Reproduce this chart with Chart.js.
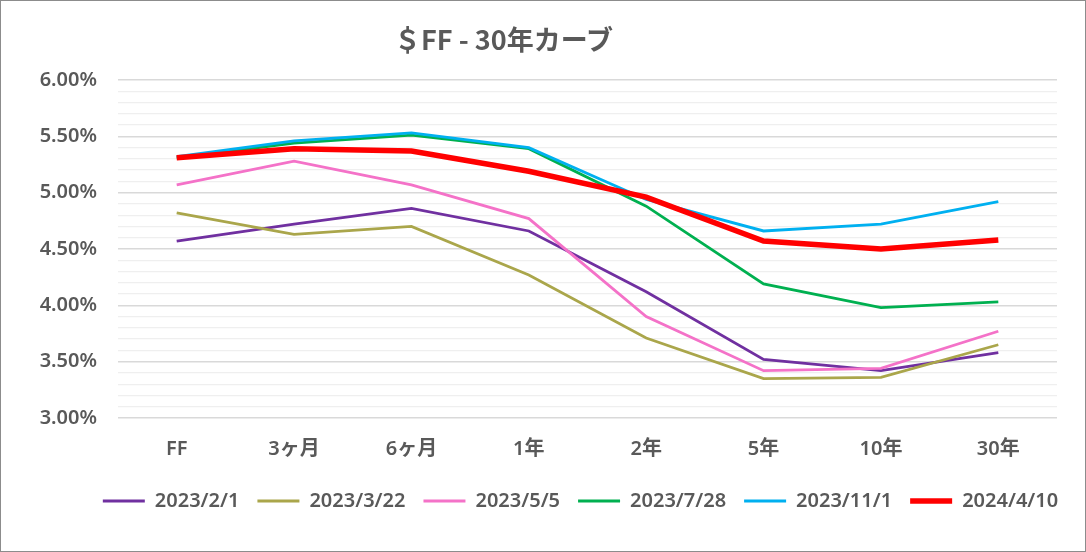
<!DOCTYPE html>
<html>
<head>
<meta charset="utf-8">
<script src="https://cdn.jsdelivr.net/npm/chart.js@4"></script>
<style>
  html, body { margin: 0; padding: 0; background: #fff; }
  #wrap { position: relative; width: 1086px; height: 552px; }
  #frame { position: absolute; left: 0; top: 0; width: 1086px; height: 552px; box-sizing: border-box; border: 1px solid #8c8c8c; pointer-events: none; }
  #title { position: absolute; left: 0; top: 23px; width: 1007px; text-align: center; font-family: 'Noto Sans CJK JP', 'Noto Sans', sans-serif; font-size: 27px; font-weight: 600; line-height: 32px; color: #595959; }
  canvas { position: absolute; left: 0; top: 0; }
</style>
</head>
<body>
<div id="wrap">
  <canvas id="chart" width="1086" height="552"></canvas>
  <div id="title">＄FF - 30年カーブ</div>
  <div id="frame"></div>
</div>
<script>
// tenors on the x axis
const tenors = ['FF', '3ヶ月', '6ヶ月', '1年', '2年', '5年', '10年', '30年'];

// curve dates (legend)
const curveDates = ['2023/2/1', '2023/3/22', '2023/5/5', '2023/7/28', '2023/11/1', '2024/4/10'];

// yields in %
const y20230201 = [4.57, 4.72, 4.86, 4.66, 4.12, 3.52, 3.42, 3.58];
const y20230322 = [4.82, 4.63, 4.70, 4.27, 3.71, 3.35, 3.36, 3.65];
const y20230505 = [5.07, 5.28, 5.07, 4.77, 3.90, 3.42, 3.44, 3.77];
const y20230728 = [5.31, 5.44, 5.51, 5.39, 4.88, 4.19, 3.98, 4.03];
const y20231101 = [5.32, 5.46, 5.53, 5.40, 4.94, 4.66, 4.72, 4.92];
const y20240410 = [5.31, 5.39, 5.37, 5.19, 4.96, 4.57, 4.50, 4.58];

const seriesValues = [y20230201, y20230322, y20230505, y20230728, y20231101, y20240410];
const lineColors = ['#7030a0', '#aaa64b', '#f472c8', '#00b050', '#00b0f0', '#ff0000'];
const lineWidths = [2.8, 2.8, 2.8, 2.8, 2.8, 5.5];

const fontFamily = "'Noto Sans', 'Noto Sans CJK JP', sans-serif";

function isMajor(v) {
  return Math.abs(v * 2 - Math.round(v * 2)) < 1e-6;
}

const datasets = seriesValues.map((vals, i) => ({
  label: curveDates[i],
  data: vals,
  borderColor: lineColors[i],
  backgroundColor: lineColors[i],
  borderWidth: lineWidths[i],
  pointRadius: 0,
  pointHoverRadius: 0,
  tension: 0,
  fill: false,
  order: seriesValues.length - 1 - i // later dates drawn on top
}));

// legend in the original sits a bit right of centre
const legendShift = {
  id: 'legendShift',
  afterLayout(chart) {
    chart.legend.left += 52;
    chart.legend.right += 52;
  }
};

const chartConfig = {
  type: 'line',
  data: { labels: tenors, datasets: datasets },
  plugins: [legendShift],
  options: {
    responsive: false,
    animation: false,
    layout: { padding: { top: 80, right: 29, bottom: 31, left: 0 } },
    plugins: {
      title: { display: false },
      tooltip: { enabled: false },
      legend: {
        position: 'bottom',
        labels: {
          usePointStyle: true,
          pointStyle: 'line',
          pointStyleWidth: 42,
          boxHeight: 20,
          padding: 18,
          color: '#595959',
          font: { family: fontFamily, size: 20, weight: '600' },
          sort: (a, b) => a.datasetIndex - b.datasetIndex
        }
      }
    },
    scales: {
      x: {
        offset: true,
        grid: { display: false, drawTicks: false },
        border: { display: false },
        ticks: {
          padding: 19,
          color: '#595959',
          maxRotation: 0,
          font: { family: fontFamily, size: 20, weight: '600' }
        },
        afterFit: scale => { scale.height = 55; }
      },
      y: {
        min: 3,
        max: 6,
        grid: {
          drawTicks: false,
          color: ctx => isMajor(ctx.tick.value) ? '#d9d9d9' : '#efefef',
          lineWidth: ctx => isMajor(ctx.tick.value) ? 1.6 : 1.3
        },
        border: { display: false },
        ticks: {
          stepSize: 0.1,
          autoSkip: false,
          padding: 21,
          color: '#595959',
          font: { family: fontFamily, size: 20, weight: '600' },
          callback: v => isMajor(v) ? v.toFixed(2) + '%' : ''
        },
        afterFit: scale => { scale.width = 118; }
      }
    }
  }
};

const chartElement = document.getElementById('chart');
const chart = new Chart(chartElement, chartConfig);
</script>
</body>
</html>
